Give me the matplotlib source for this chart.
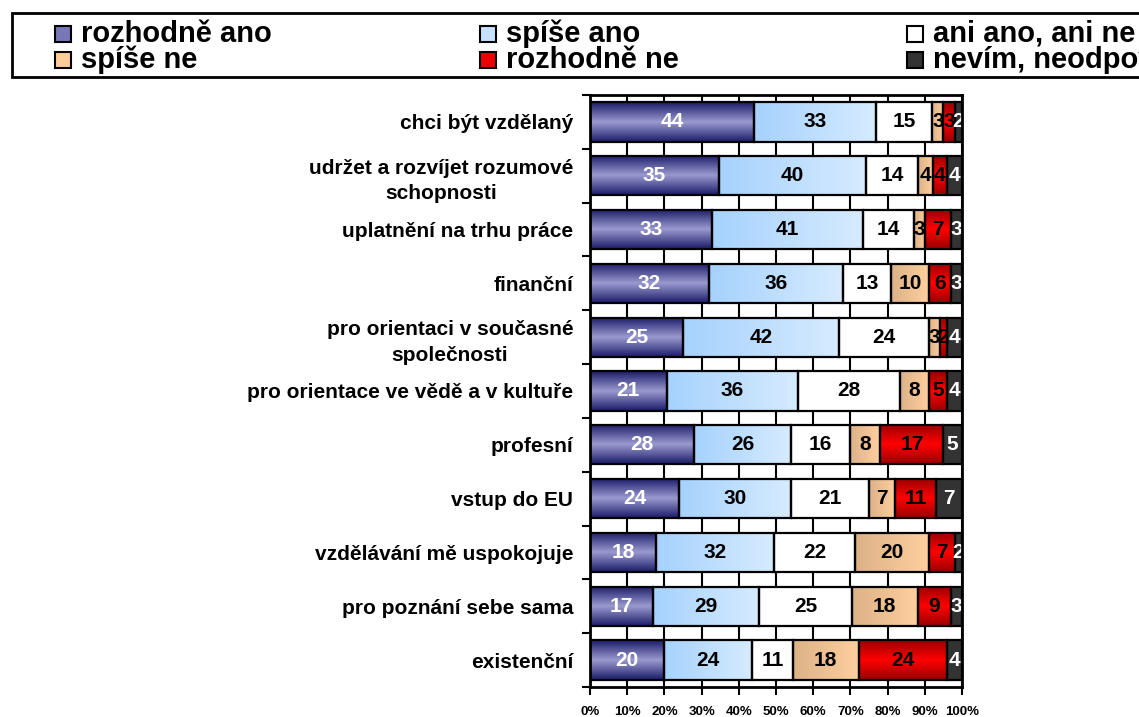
import numpy as np
import matplotlib
matplotlib.use('Agg')
import matplotlib.pyplot as plt
from matplotlib.patches import Rectangle
from matplotlib.colors import to_rgb

plt.rcParams['font.family'] = ['Liberation Sans', 'DejaVu Sans']
plt.rcParams['font.weight'] = 'bold'

# data
categories = ['chci být vzdělaný', 'udržet a rozvíjet rozumové\nschopnosti',
              'uplatnění na trhu práce', 'finanční',
              'pro orientaci v současné\nspolečnosti',
              'pro orientace ve vědě a v kultuře', 'profesní', 'vstup do EU',
              'vzdělávání mě uspokojuje', 'pro poznání sebe sama', 'existenční']
series = ['rozhodně ano', 'spíše ano', 'ani ano, ani ne',
          'spíše ne', 'rozhodně ne', 'nevím, neodpověděl']
rozhodne_ano = [44, 35, 33, 32, 25, 21, 28, 24, 18, 17, 20]
spise_ano = [33, 40, 41, 36, 42, 36, 26, 30, 32, 29, 24]
ani_ano_ani_ne = [15, 14, 14, 13, 24, 28, 16, 21, 22, 25, 11]
spise_ne = [3, 4, 3, 10, 3, 8, 8, 7, 20, 18, 18]
rozhodne_ne = [3, 4, 7, 6, 2, 5, 17, 11, 7, 9, 24]
nevim = [2, 4, 3, 3, 4, 4, 5, 7, 2, 3, 4]
values = np.array([rozhodne_ano, spise_ano, ani_ano_ani_ne,
                   spise_ne, rozhodne_ne, nevim], dtype=float)

# fill styles: (start colour, end colour, gradient kind)
fills = [('#1c1c6a', '#9a9acf', 'v'),
         ('#a6d2fd', '#d6ebff', 'h'),
         ('#ffffff', '#ffffff', 'h'),
         ('#dcb287', '#ffcf9e', 'h'),
         ('#9a0000', '#ff0000', 'v'),
         ('#333333', '#333333', 'h')]
legend_colors = ['#7878b8', '#c6e2ff', '#ffffff', '#ffcc99', '#ee0000', '#333333']
text_colors = ['white', 'black', 'black', 'black', 'black', 'white']

pct = values / values.sum(axis=0) * 100

fig = plt.figure(figsize=(11.39, 7.17), dpi=100)
ax = fig.add_axes([590 / 1139, 1 - 687 / 717, 372 / 1139, 592 / 717])


def paint(bar, c0, c1, kind):
    x, y = bar.get_xy()
    w, h = bar.get_width(), bar.get_height()
    s = np.linspace(0, 1, 64)
    a, b = np.array(to_rgb(c0)), np.array(to_rgb(c1))
    if kind == 'v':
        t = 1 - np.abs(2 * s - 1)
        arr = np.array([[a * (1 - k) + b * k] for k in t])
    else:
        arr = np.array([[a * (1 - k) + b * k for k in s]])
    im = ax.imshow(arr, extent=[x, x + w, y, y + h], aspect='auto',
                   origin='lower', zorder=2, interpolation='bilinear')
    im.set_clip_path(bar)


ypos = np.arange(len(categories))
left = np.zeros(len(categories))
for i in range(len(series)):
    bars = ax.barh(ypos, pct[i], left=left, height=0.73, facecolor='none',
                   edgecolor='black', linewidth=1.6, zorder=3)
    for b in bars:
        paint(b, *fills[i])
    for j, b in enumerate(bars):
        ax.text(left[j] + pct[i][j] / 2, ypos[j], '%d' % values[i][j],
                ha='center', va='center', fontsize=15, fontweight='bold',
                color=text_colors[i], zorder=4)
    left += pct[i]

ax.set_xlim(0, 100)
ax.set_ylim(len(categories) - 0.5, -0.5)
ax.set_xticks(np.arange(0, 101, 10))
ax.set_xticklabels(['%d%%' % v for v in range(0, 101, 10)], fontsize=9.5,
                   fontweight='bold')
ax.xaxis.grid(True, color='black', linewidth=1.5, zorder=0)
ax.set_axisbelow(True)
ax.tick_params(axis='x', direction='out', length=6, width=1.5, pad=8)
ax.set_yticks(ypos)
ax.set_yticklabels(categories, fontsize=15, fontweight='bold',
                   multialignment='center', linespacing=1.45)
ax.set_yticks(np.arange(-0.5, len(categories)), minor=True)
ax.tick_params(axis='y', which='major', length=0, pad=12)
ax.tick_params(axis='y', which='minor', direction='out', length=6, width=1.5)
for sp in ax.spines.values():
    sp.set_linewidth(2)
    sp.set_zorder(5)

# legend box (runs past the right edge like the original)
fig.add_artist(Rectangle((12 / 1139, 1 - 77 / 717), 1.2, 64 / 717,
                         transform=fig.transFigure, facecolor='white',
                         edgecolor='black', linewidth=2))
col_x = [55, 480, 907]
row_y = [34, 60]
for k, name in enumerate(series):
    r, c = divmod(k, 3)
    px, py = col_x[c], row_y[r]
    fig.add_artist(Rectangle((px / 1139, 1 - (py + 8) / 717), 16 / 1139, 16 / 717,
                             transform=fig.transFigure,
                             facecolor=legend_colors[k], edgecolor='black',
                             linewidth=1.5))
    fig.text((px + 26) / 1139, 1 - py / 717, name, fontsize=21,
             fontweight='bold', va='center', ha='left')

fig.savefig('out.png', dpi=100)
